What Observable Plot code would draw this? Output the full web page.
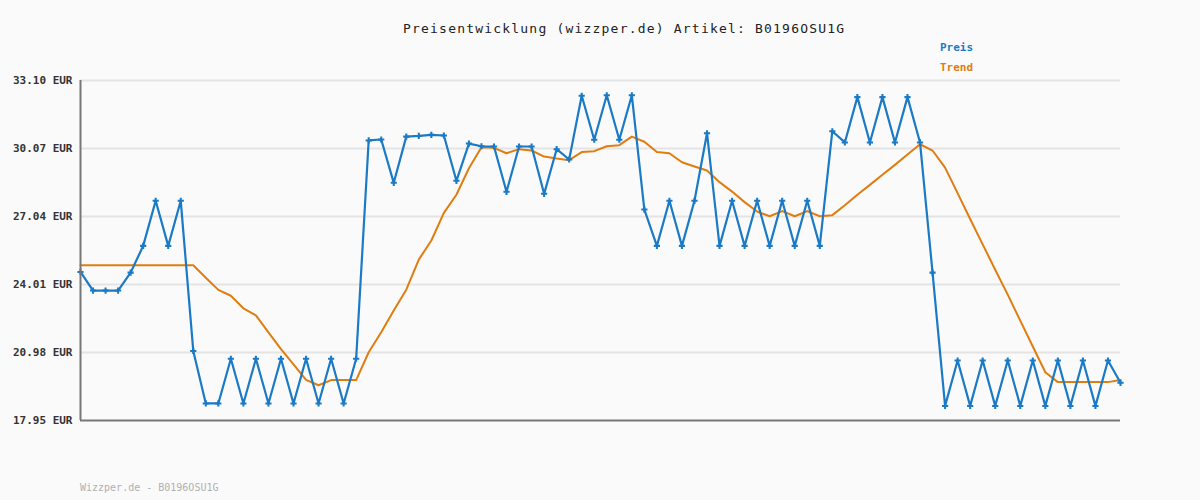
<!DOCTYPE html>
<html>
<head>
<meta charset="utf-8">
<script src="https://cdn.jsdelivr.net/npm/d3@7"></script>
<script src="https://cdn.jsdelivr.net/npm/@observablehq/plot@0.6"></script>
<style>
  body { margin: 0; background: #fafafa; }
  #wrap { position: relative; width: 1200px; height: 500px; background: #fafafa; font-family: "DejaVu Sans Mono", monospace; }
  .title { position: absolute; left: 403px; top: 21px; white-space: nowrap; font-size: 13px; letter-spacing: 1.2px; color: #222; }
  .leg { position: absolute; left: 940px; font-size: 11px; font-weight: bold; }
  .foot { position: absolute; left: 80px; top: 482px; font-size: 10px; color: #b0b0b0; }
</style>
</head>
<body>
<div id="wrap">
  <div class="title">Preisentwicklung (wizzper.de) Artikel: B0196OSU1G</div>
  <div class="leg" style="top:41px;color:#1a7ac6">Preis</div>
  <div class="leg" style="top:61px;color:#e07d10">Trend</div>
  <div class="foot">Wizzper.de - B0196OSU1G</div>
  <div id="chart"></div>
</div>
<script>
const yTicks = [17.95, 20.98, 24.01, 27.04, 30.07, 33.10];

const preis = [
  24.57, 23.74, 23.74, 23.74, 24.54, 25.73, 27.74, 25.73, 27.74, 21.05,
  18.71, 18.71, 20.70, 18.71, 20.70, 18.71, 20.70, 18.71, 20.70, 18.71,
  20.70, 18.71, 20.70, 30.43, 30.47, 28.54, 30.60, 30.63, 30.68, 30.65,
  28.63, 30.29, 30.17, 30.16, 28.14, 30.16, 30.16, 28.05, 30.04, 29.58,
  32.42, 30.46, 32.44, 30.46, 32.44, 27.35, 25.73, 27.74, 25.73, 27.74,
  30.75, 25.73, 27.74, 25.73, 27.74, 25.73, 27.74, 25.73, 27.74, 25.73,
  30.84, 30.34, 32.36, 30.34, 32.36, 30.34, 32.36, 30.34, 24.54, 18.60,
  20.62, 18.60, 20.62, 18.60, 20.62, 18.60, 20.62, 18.60, 20.62, 18.60,
  20.62, 18.60, 20.62, 19.63
];

const trend = [
  24.87, 24.87, 24.87, 24.87, 24.87, 24.87, 24.87, 24.87, 24.87, 24.87,
  24.31, 23.77, 23.51, 22.95, 22.63, 21.88, 21.13, 20.45, 19.76, 19.52,
  19.75, 19.75, 19.75, 20.99, 21.88, 22.85, 23.78, 25.12, 25.97, 27.20,
  28.01, 29.19, 30.13, 30.10, 29.86, 30.04, 29.98, 29.71, 29.62, 29.55,
  29.91, 29.95, 30.17, 30.22, 30.60, 30.37, 29.91, 29.86, 29.46, 29.27,
  29.09, 28.57, 28.15, 27.68, 27.26, 27.05, 27.28, 27.05, 27.28, 27.05,
  27.10, 27.54, 28.01, 28.45, 28.90, 29.34, 29.80, 30.26, 29.98, 29.22,
  28.08, 26.93, 25.80, 24.67, 23.56, 22.40, 21.25, 20.10, 19.66, 19.66,
  19.66, 19.66, 19.66, 19.75
];

const rows = preis.map((p, i) => ({i, preis: p, trend: trend[i]}));
const blue = "#1a7ac6";
const orange = "#e07d10";

const chart = Plot.plot({
  width: 1200,
  height: 500,
  marginLeft: 80,
  marginRight: 80,
  marginTop: 80,
  marginBottom: 80,
  style: {background: "transparent", fontFamily: "'DejaVu Sans Mono', monospace", overflow: "visible"},
  x: {domain: [0, preis.length - 1], axis: null},
  y: {domain: [yTicks[0], yTicks[yTicks.length - 1]]},
  marks: [
    Plot.ruleY(yTicks.slice(1), {stroke: "#e4e4e4", strokeWidth: 2}),
    Plot.axisY({ticks: yTicks, tickFormat: d => d.toFixed(2) + " EUR", tickSize: 0, tickPadding: 8,
      fontSize: 11, fontWeight: "bold", fill: "#333", label: null, style: {letterSpacing: "0.35px"}}),
    Plot.line(rows, {x: "i", y: "trend", stroke: orange, strokeWidth: 2}),
    Plot.line(rows, {x: "i", y: "preis", stroke: blue, strokeWidth: 2.2}),
    Plot.dot(rows, {x: "i", y: "preis", symbol: "cross", r: 2.6, fill: blue, stroke: "none"}),
    Plot.ruleX([0], {stroke: "#777", strokeWidth: 2}),
    Plot.ruleY([yTicks[0]], {stroke: "#777", strokeWidth: 2})
  ]
});
document.getElementById("chart").appendChild(chart);
</script>
</body>
</html>
